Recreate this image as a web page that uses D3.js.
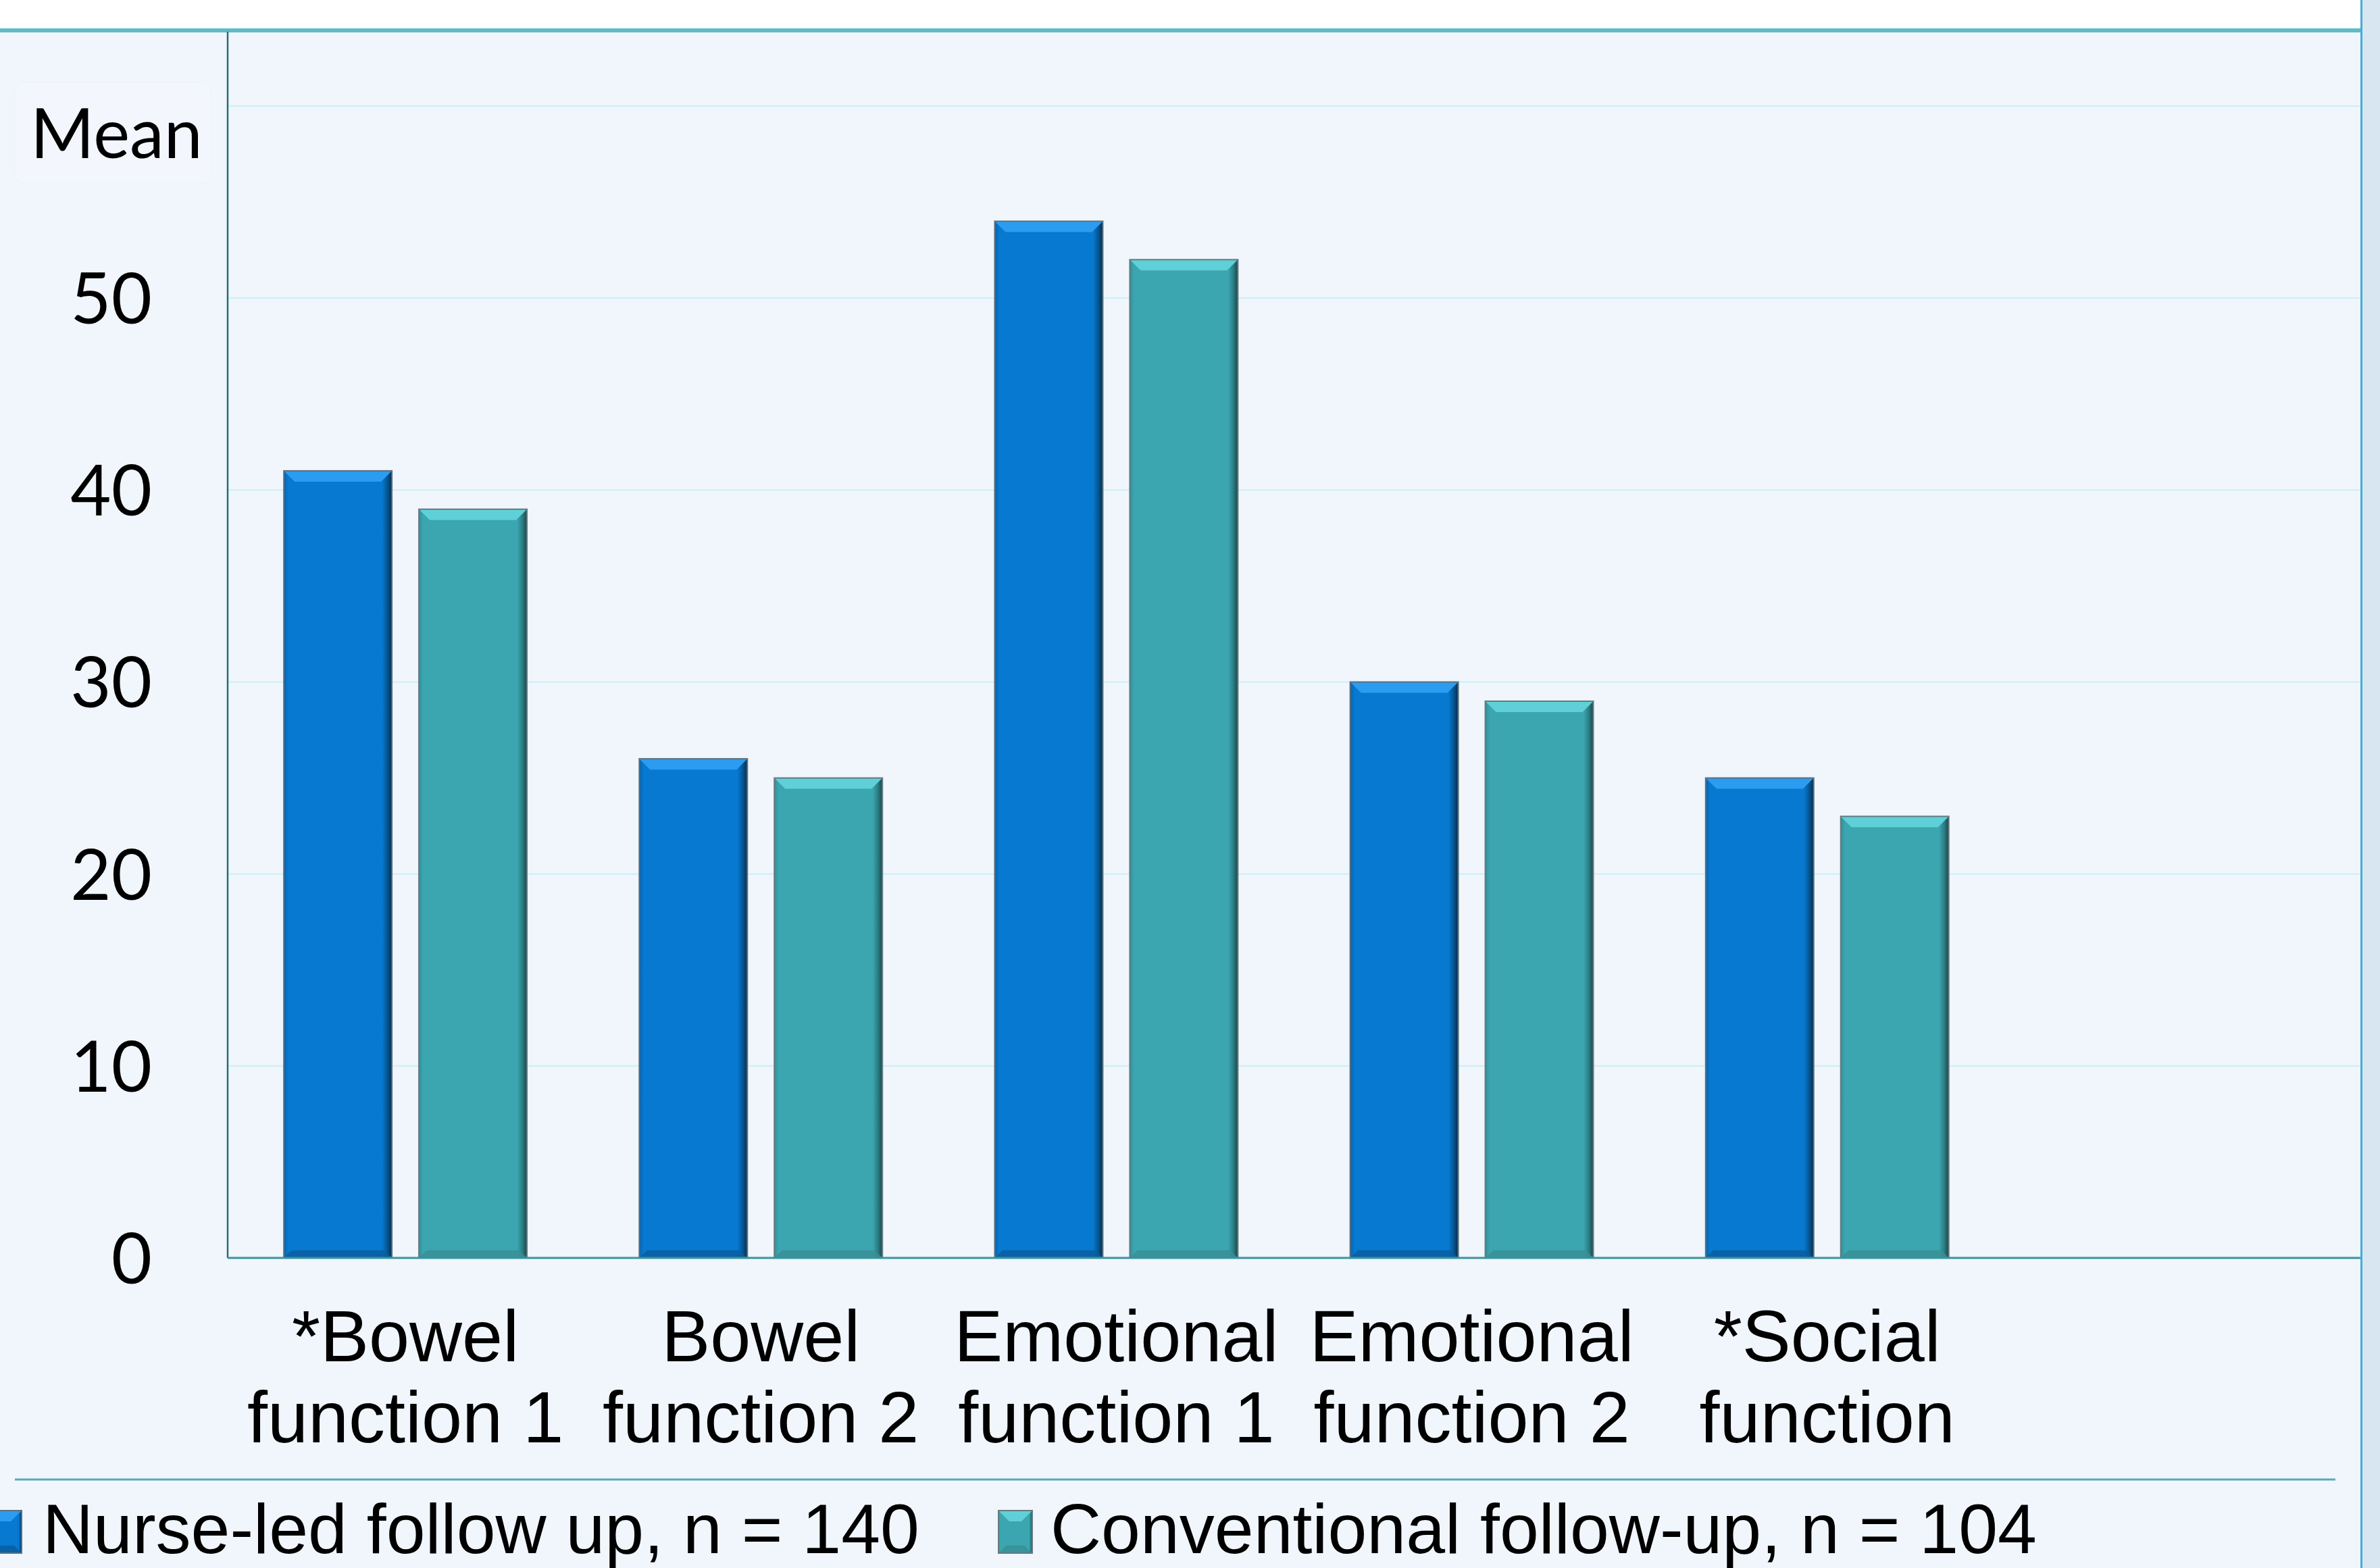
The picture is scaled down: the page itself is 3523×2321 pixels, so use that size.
<!DOCTYPE html>
<html lang="en">
<head>
    <meta charset="UTF-8">
    <title>Mean scores by follow-up</title>
    <script src="https://d3js.org/d3.v7.min.js"></script>
    <style>
        body { margin: 0; background: #ffffff; }
        svg { display: block; }
    </style>
</head>
<body>
<svg width="3523" height="2321"></svg>

<script>
    // data
    const categories = [
        ["*Bowel", "function 1"],
        ["Bowel", "function 2"],
        ["Emotional", "function 1"],
        ["Emotional", "function 2"],
        ["*Social", "function"]
    ];
    const seriesNames = ["Nurse-led follow up, n = 140", "Conventional follow-up, n = 104"];
    const nurseLed = [41, 26, 54, 30, 25];
    const conventional = [39, 25, 52, 29, 23];
    const yTicks = [0, 10, 20, 30, 40, 50, 60];
    const yLabels = [0, 10, 20, 30, 40, 50];

    const svg = d3.select("svg");
    const W = 3523, H = 2321;
    const plotLeft = 337, plotRight = 3494, plotTop = 47, y0 = 1862, y60 = 157;

    // panel backgrounds
    svg.append("rect").attr("x", 0).attr("y", 0).attr("width", W).attr("height", H).attr("fill", "#f0f6fb");
    svg.append("rect").attr("x", 0).attr("y", 0).attr("width", plotRight).attr("height", 44).attr("fill", "#ffffff");
    svg.append("rect").attr("x", plotRight + 3).attr("y", 0).attr("width", W - plotRight - 3).attr("height", H).attr("fill", "#d7e6f1");
    svg.append("rect").attr("x", 0).attr("y", 42).attr("width", plotRight + 2).attr("height", 6).attr("fill", "#5dbcc8");
    svg.append("rect").attr("x", plotRight).attr("y", 0).attr("width", 3).attr("height", H).attr("fill", "#44aed6");

    const y = d3.scaleLinear().domain([0, 60]).range([y0, y60]);

    // 6 slots across the plot, the 5 groups use the first five
    const slot = (plotRight - plotLeft) / 6;
    const x = d3.scaleBand()
        .domain(d3.range(categories.length))
        .range([plotLeft, plotLeft + slot * categories.length])
        .paddingInner(0.316)
        .paddingOuter(0.158);
    const x1 = d3.scaleBand()
        .domain([0, 1])
        .range([0, x.bandwidth()])
        .paddingInner(0.2);

    // gridlines
    svg.append("g").selectAll("line")
        .data(yTicks.filter(d => d > 0))
        .join("line")
        .attr("x1", plotLeft).attr("x2", plotRight)
        .attr("y1", d => y(d)).attr("y2", d => y(d))
        .attr("stroke", "#cbeefa").attr("stroke-width", 2);

    // bar gradients
    const defs = svg.append("defs");
    const palettes = [
        {id: "gBlue", stops: [["0%", "#0563ae"], ["4%", "#0779d0"], ["91%", "#0779d0"], ["96%", "#05548f"], ["100%", "#062d4c"]],
         top: "#2c9cf0", bottom: "#0a5c9e", edge: "#5b7080"},
        {id: "gTeal", stops: [["0%", "#338f99"], ["4%", "#3ba6b0"], ["91%", "#3ba6b0"], ["96%", "#2a7b81"], ["100%", "#19454a"]],
         top: "#60d0d8", bottom: "#3a8e95", edge: "#647a80"}
    ];
    palettes.forEach(p => {
        const g = defs.append("linearGradient").attr("id", p.id)
            .attr("x1", "0%").attr("x2", "100%").attr("y1", "0%").attr("y2", "0%");
        p.stops.forEach(s => g.append("stop").attr("offset", s[0]).attr("stop-color", s[1]));
    });

    function bevelBar(g, bx, by, bw, bh, p) {
        const b = Math.min(16, bh / 2);
        g.append("rect").attr("x", bx).attr("y", by).attr("width", bw).attr("height", bh)
            .attr("fill", `url(#${p.id})`);
        g.append("path")
            .attr("d", `M${bx},${by}H${bx + bw}L${bx + bw - b},${by + b}H${bx + b}Z`)
            .attr("fill", p.top);
        g.append("path")
            .attr("d", `M${bx},${by + bh}H${bx + bw}L${bx + bw - b * 0.7},${by + bh - b * 0.7}H${bx + b * 0.7}Z`)
            .attr("fill", p.bottom).attr("opacity", 0.8);
        g.append("rect").attr("x", bx).attr("y", by).attr("width", bw).attr("height", bh)
            .attr("fill", "none").attr("stroke", p.edge).attr("stroke-width", 2);
    }

    const seriesValues = [nurseLed, conventional];
    const bars = svg.append("g");
    categories.forEach((c, i) => {
        seriesValues.forEach((vals, s) => {
            const bx = x(i) + x1(s);
            bevelBar(bars, bx, y(vals[i]), x1.bandwidth(), y(0) - y(vals[i]), palettes[s]);
        });
    });

    // axes lines
    svg.append("line").attr("x1", plotLeft).attr("x2", plotLeft).attr("y1", plotTop).attr("y2", y0)
        .attr("stroke", "#2c6b78").attr("stroke-width", 2.5);
    svg.append("line").attr("x1", plotLeft).attr("x2", plotRight).attr("y1", y0).attr("y2", y0)
        .attr("stroke", "#3a93a0").attr("stroke-width", 3);

    // y tick labels
    const yAxis = svg.append("g")
        .attr("transform", `translate(${plotLeft},0)`)
        .call(d3.axisLeft(y).tickValues(yLabels).tickSize(0).tickPadding(112));
    yAxis.select(".domain").remove();
    yAxis.selectAll("text")
        .attr("font-family", "Lato, 'Open Sans', sans-serif")
        .attr("font-size", 104)
        .attr("fill", "#000")
        .attr("dy", "0.36em");

    // "Mean" label box (hides the 60 label, as in the original)
    svg.append("rect").attr("x", 22).attr("y", 122).attr("width", 290).attr("height", 150).attr("rx", 14)
        .attr("fill", "#f3f7fd").attr("stroke", "#eef3f8").attr("stroke-width", 1);
    svg.append("text").attr("x", 45).attr("y", 234)
        .attr("font-family", "Lato, 'Open Sans', sans-serif").attr("font-size", 102)
        .attr("fill", "#000").text("Mean");

    // category labels
    const cat = svg.append("g")
        .attr("font-family", "'Liberation Sans', Arial, sans-serif")
        .attr("font-size", 108).attr("fill", "#000").attr("text-anchor", "middle");
    categories.forEach((lines, i) => {
        const t = cat.append("text").attr("x", x(i) + x.bandwidth() / 2).attr("y", 2015);
        lines.forEach((l, k) => {
            t.append("tspan").attr("x", x(i) + x.bandwidth() / 2).attr("dy", k === 0 ? 0 : 120).text(l);
        });
    });

    // legend
    svg.append("line").attr("x1", 22).attr("x2", 3457).attr("y1", 2190).attr("y2", 2190)
        .attr("stroke", "#5aa9b4").attr("stroke-width", 3);
    const legendX = [[-18, 63], [1478, 1555]];
    const leg = svg.append("g");
    seriesNames.forEach((name, s) => {
        bevelBar(leg, legendX[s][0], 2236, 50, 63, palettes[s]);
        leg.append("text").attr("x", legendX[s][1]).attr("y", 2299)
            .attr("font-family", "'Liberation Sans', Arial, sans-serif")
            .attr("font-size", 104).attr("fill", "#000").text(name);
    });
</script>
</body>
</html>
